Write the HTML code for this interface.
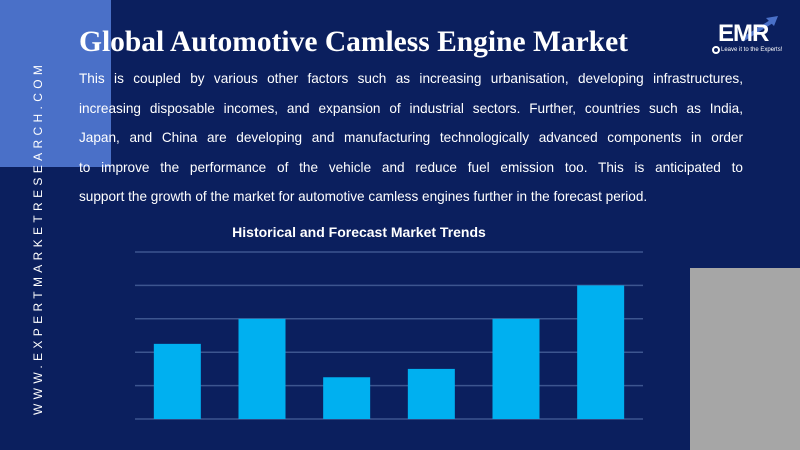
<!DOCTYPE html>
<html><head><meta charset="utf-8"><style>
body{margin:0;width:800px;height:450px;overflow:hidden;background:#0b1f5e;font-family:"Liberation Sans",sans-serif;position:relative}
.abs{position:absolute}
#title{left:79px;top:26px;font-family:"Liberation Serif",serif;font-weight:bold;font-size:29.5px;color:#fff;white-space:nowrap}
#para{left:79px;top:64px;width:664px;font-size:13.6px;line-height:29.6px;color:#fff}
#para div{text-align:justify;text-align-last:justify;height:29.6px;overflow:hidden}
#para div.last{text-align-last:left}
#side{left:31px;top:415px;transform-origin:0 0;transform:rotate(-90deg);color:#fff;font-size:12px;letter-spacing:4.35px;white-space:nowrap}
</style></head><body>
<div class="abs" style="left:0;top:0;width:111px;height:167px;background:#4a70c8"></div>
<div class="abs" style="left:690px;top:268px;width:110px;height:182px;background:#a6a6a6"></div>
<div id="side" class="abs">WWW.EXPERTMARKETRESEARCH.COM</div>
<div id="title" class="abs">Global Automotive Camless Engine Market</div>
<div id="para" class="abs">
<div>This is coupled by various other factors such as increasing urbanisation, developing infrastructures,</div>
<div>increasing disposable incomes, and expansion of industrial sectors. Further, countries such as India,</div>
<div>Japan, and China are developing and manufacturing technologically advanced components in order</div>
<div>to improve the performance of the vehicle and reduce fuel emission too. This is anticipated to</div>
<div class="last">support the growth of the market for automotive camless engines further in the forecast period.</div>
</div>
<div class="abs" style="left:712px;top:12px;width:70px;height:40px;color:#fff">
<svg width="80" height="45" style="position:absolute;left:0;top:0"><line x1="30" y1="28" x2="62" y2="8" stroke="#4a70c8" stroke-width="4"/><polygon points="66,4 54,6 62,14" fill="#4a70c8"/><circle cx="4" cy="38" r="3" fill="none" stroke="#fff" stroke-width="2"/></svg>
<div class="abs" style="left:6px;top:8px;font-weight:bold;font-size:24px;letter-spacing:-1px">EMR</div>
<div class="abs" style="left:9px;top:35px;font-size:6px;white-space:nowrap">Leave it to the Experts!</div>
</div>
<svg class="abs" style="left:0;top:0" width="800" height="450">
<text x="359" y="237" text-anchor="middle" fill="#fff" font-weight="bold" font-size="14" font-family="Liberation Sans, sans-serif">Historical and Forecast Market Trends</text>
<g id="grid"></g><g id="bars"></g>
</svg>
<script>
const categories=['2018','2019','2020','2021','2022','2023'];
const values=[2.25,3,1.25,1.5,3,4];
const ticks=[0,1,2,3,4,5];
const x0=135,x1=643,yBase=419,yTop=252,maxV=5;
const ns='http://www.w3.org/2000/svg';
const y=v=>yBase-(v/maxV)*(yBase-yTop);
const slot=(x1-x0)/categories.length;
const g=document.getElementById('grid'),b=document.getElementById('bars');
ticks.forEach(t=>{const l=document.createElementNS(ns,'line');
l.setAttribute('x1',x0);l.setAttribute('x2',x1);l.setAttribute('y1',y(t));l.setAttribute('y2',y(t));
l.setAttribute('stroke','#3d558f');l.setAttribute('stroke-width','1.5');


g.appendChild(l);});
values.forEach((v,i)=>{const r=document.createElementNS(ns,'rect');
const w=47;r.setAttribute('x',x0+slot*i+(slot-w)/2);r.setAttribute('width',w);
r.setAttribute('y',y(v));r.setAttribute('height',yBase-y(v));r.setAttribute('fill','#00b0f0');


b.appendChild(r);});
</script>
</body></html>
